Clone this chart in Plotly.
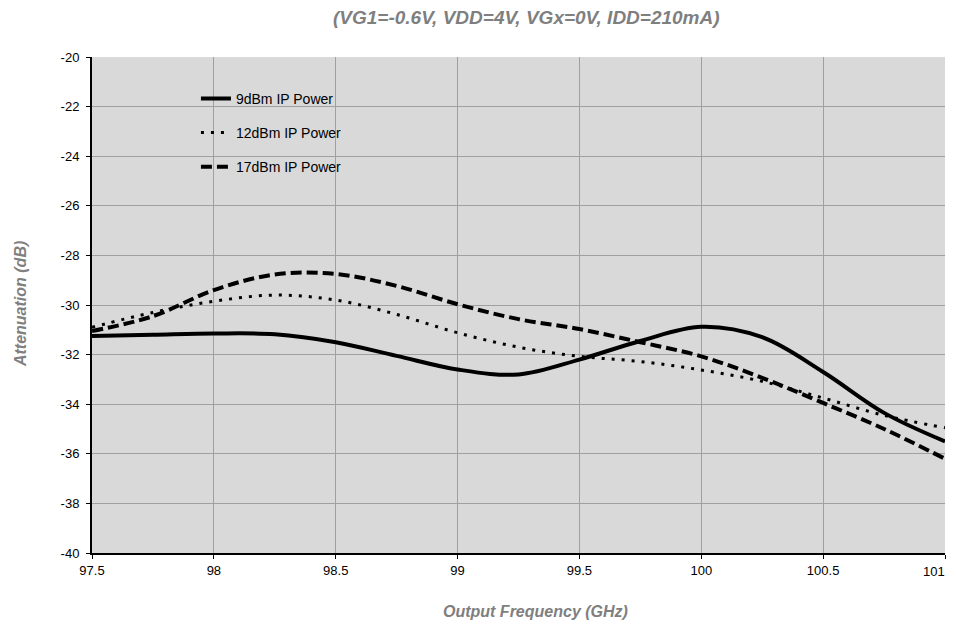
import plotly.graph_objects as go

freq = [97.5, 97.75, 98.0, 98.25, 98.5, 98.75, 99.0, 99.25, 99.5, 99.75, 100.0, 100.25, 100.5, 100.75, 101.0]
p9 = [-31.25, -31.2, -31.15, -31.18, -31.5, -32.05, -32.6, -32.8, -32.2, -31.45, -30.88, -31.3, -32.7, -34.35, -35.5]
p12 = [-30.9, -30.3, -29.85, -29.6, -29.8, -30.38, -31.12, -31.7, -32.07, -32.28, -32.62, -33.08, -33.75, -34.45, -34.95]
p17 = [-31.05, -30.45, -29.4, -28.77, -28.75, -29.23, -29.97, -30.57, -30.97, -31.5, -32.07, -32.94, -33.95, -35.0, -36.2]

names = ["9dBm IP Power", "12dBm IP Power", "17dBm IP Power"]

x_ticks = [97.5, 98, 98.5, 99, 99.5, 100, 100.5, 101]
x_ticktext = ["97.5", "98", "98.5", "99", "99.5", "100", "100.5", "101"]
y_ticks = [-40, -38, -36, -34, -32, -30, -28, -26, -24, -22, -20]
y_ticktext = ["-40", "-38", "-36", "-34", "-32", "-30", "-28", "-26", "-24", "-22", "-20"]

title_text = "(VG1=-0.6V, VDD=4V, VGx=0V, IDD=210mA)"
x_title = "Output Frequency (GHz)"
y_title = "Attenuation (dB)"

dashes = ["solid", "3px,7px", "11px,5px"]
widths = [4, 3, 4]

# page has an 8px body margin; figure sized to fit the 956x630 window
W, H = 940, 614
L, R, T, B = 84, 2.5, 49, 69
pw = W - L - R
ph = H - T - B

fig = go.Figure()
for i, (vals, nm) in enumerate(zip([p9, p12, p17], names)):
    fig.add_trace(go.Scatter(
        x=freq, y=vals, name=nm, mode="lines", legendgroup=f"g{i}",
        line=dict(color="black", width=widths[i], dash=dashes[i], shape="spline", smoothing=1.0),
    ))

# the last x tick label sits on the window edge: draw it right-aligned so it stays visible
shown_ticktext = x_ticktext[:-1] + [""]

grey = "#7f7f7f"
fig.update_layout(
    width=W, height=H,
    margin=dict(l=L, r=R, t=T, b=B, autoexpand=False),
    paper_bgcolor="white", plot_bgcolor="#d9d9d9",
    font=dict(family="Liberation Sans, Arial", size=13, color="black"),
    showlegend=True,
    legend=dict(x=(188 - L) / pw, y=0.948, xanchor="left", yanchor="top", bgcolor="rgba(0,0,0,0)",
                traceorder="grouped", tracegroupgap=13, font=dict(size=14)),
    xaxis=dict(range=[97.5, 101], tickvals=x_ticks, ticktext=shown_ticktext, showgrid=True,
               gridcolor="#a0a0a0", gridwidth=1, automargin=False,
               showline=True, linecolor="black", linewidth=2, ticks="outside", ticklen=4, tickcolor="black",
               zeroline=False),
    yaxis=dict(range=[-40, -20], tickvals=y_ticks, ticktext=y_ticktext, showgrid=True,
               gridcolor="#a0a0a0", gridwidth=1, automargin=False,
               showline=True, linecolor="black", linewidth=2, ticks="outside", ticklen=4, tickcolor="black",
               zeroline=False, ticklabelstandoff=4),
    annotations=[
        dict(text=x_ticktext[-1], xref="paper", yref="paper",
             x=1 + R / pw, y=-(563 - (H - B)) / ph, xanchor="right", yanchor="middle",
             showarrow=False, font=dict(size=13, color="black")),
        dict(text=f"<b><i>{title_text}</i></b>", xref="paper", yref="paper",
             x=(519 - L) / pw, y=1 + (T - 9.5) / ph, xanchor="center", yanchor="middle",
             showarrow=False, font=dict(size=19, color=grey)),
        dict(text=f"<b><i>{x_title}</i></b>", xref="paper", yref="paper",
             x=(528 - L) / pw, y=-(603 - (H - B)) / ph, xanchor="center", yanchor="middle",
             showarrow=False, font=dict(size=16, color=grey)),
        dict(text=f"<b><i>{y_title}</i></b>", xref="paper", yref="paper", textangle=-90,
             x=-(L - 12) / pw, y=1 - (296 - T) / ph, xanchor="center", yanchor="middle",
             showarrow=False, font=dict(size=16, color=grey)),
    ],
)
fig.write_html("out.html")
